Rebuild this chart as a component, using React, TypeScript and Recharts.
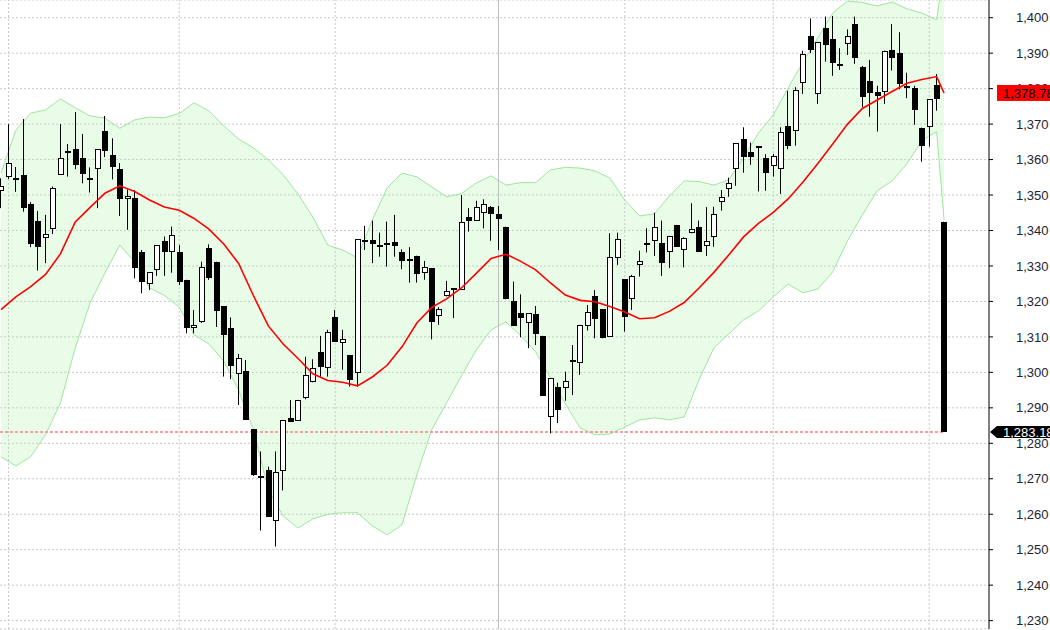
import React from 'react';
import { ComposedChart, Bar, Line, Area, XAxis, YAxis, CartesianGrid, ReferenceLine } from 'recharts';

// daily candles, oldest first
const opens = [
  1351.2, 1355.0, 1354.7, 1355.7, 1347.5, 1342.8, 1337.8, 1340.4, 1355.7, 1361.8,
  1362.9, 1360.4, 1354.9, 1357.3, 1368.1, 1361.3, 1357.4, 1348.8, 1349.3, 1333.8,
  1324.8, 1328.9, 1337.1, 1334.0, 1333.8, 1326.1, 1312.4, 1314.1, 1335.0, 1331.2,
  1318.7, 1312.6, 1299.6, 1300.4, 1284.0, 1270.8, 1272.5, 1258.2, 1272.3, 1287.1,
  1286.4, 1292.9, 1297.2, 1305.8, 1301.2, 1315.7, 1308.4, 1304.9, 1299.9, 1337.3,
  1337.3, 1335.8, 1335.9, 1336.8, 1333.8, 1331.9, 1332.9, 1328.1, 1329.4, 1315.9,
  1321.4, 1323.7, 1323.2, 1343.9, 1342.8, 1344.9, 1346.7, 1344.7, 1341.1, 1320.1,
  1316.7, 1314.0, 1316.4, 1310.3, 1287.5, 1295.8, 1295.5, 1303.6, 1302.7, 1313.2,
  1321.4, 1317.8, 1310.1, 1332.3, 1326.3, 1320.6, 1330.3, 1336.6, 1337.1, 1336.6,
  1333.8, 1341.6, 1334.5, 1339.2, 1341.1, 1335.6, 1338.3, 1348.0, 1351.7, 1357.3,
  1365.7, 1362.0, 1363.7, 1360.5, 1358.2, 1357.4, 1369.6, 1368.1, 1381.5, 1394.7,
  1378.4, 1397.2, 1393.9, 1387.0, 1392.6, 1398.2, 1386.0, 1382.2, 1379.0, 1379.1,
  1390.9, 1390.1, 1380.8, 1380.1, 1369.0, 1369.1, 1381.0, 1342.5,
];
const highs = [
  1354.7, 1370.0, 1357.9, 1371.4, 1348.0, 1345.5, 1344.4, 1352.4, 1370.0, 1364.4,
  1373.4, 1367.2, 1357.8, 1362.9, 1372.3, 1366.0, 1359.0, 1351.6, 1351.4, 1334.5,
  1328.2, 1335.9, 1338.3, 1341.1, 1335.9, 1326.1, 1317.6, 1331.2, 1336.1, 1331.2,
  1318.7, 1315.5, 1305.2, 1303.5, 1284.0, 1277.7, 1273.4, 1277.7, 1286.6, 1292.2,
  1292.2, 1304.4, 1303.7, 1310.3, 1312.0, 1317.6, 1312.0, 1304.9, 1337.5, 1341.3,
  1342.8, 1339.4, 1342.5, 1344.4, 1334.7, 1335.3, 1332.9, 1331.4, 1329.4, 1318.4,
  1325.8, 1323.7, 1350.0, 1346.3, 1348.4, 1348.8, 1346.9, 1346.9, 1341.1, 1325.6,
  1322.0, 1316.7, 1318.7, 1310.3, 1298.3, 1297.1, 1300.2, 1307.7, 1313.4, 1319.0,
  1323.2, 1317.8, 1339.2, 1339.4, 1326.3, 1327.5, 1334.3, 1340.6, 1345.0, 1342.8,
  1338.5, 1341.6, 1338.1, 1347.7, 1342.8, 1346.6, 1346.7, 1351.4, 1354.9, 1364.6,
  1369.1, 1364.8, 1363.8, 1361.5, 1361.6, 1369.1, 1379.4, 1380.4, 1390.7, 1399.8,
  1393.2, 1400.3, 1400.5, 1391.4, 1396.7, 1400.3, 1386.4, 1388.1, 1380.8, 1390.7,
  1398.2, 1395.9, 1384.5, 1380.8, 1369.0, 1377.0, 1384.1, 1342.5,
];
const lows = [
  1346.3, 1354.5, 1350.9, 1345.3, 1335.3, 1328.7, 1330.8, 1339.0, 1355.7, 1355.2,
  1357.3, 1353.3, 1350.7, 1346.3, 1360.7, 1354.4, 1344.1, 1340.2, 1326.5, 1322.3,
  1323.2, 1327.2, 1327.2, 1328.1, 1324.6, 1311.0, 1311.0, 1313.9, 1326.1, 1312.8,
  1298.8, 1298.1, 1290.8, 1286.6, 1270.8, 1255.4, 1259.2, 1250.9, 1266.7, 1286.1,
  1286.4, 1292.4, 1297.2, 1298.8, 1298.8, 1308.7, 1300.7, 1296.0, 1296.0, 1334.5,
  1330.8, 1332.6, 1329.8, 1332.6, 1329.1, 1325.3, 1325.3, 1326.1, 1309.3, 1313.4,
  1321.4, 1315.3, 1323.2, 1339.7, 1342.8, 1340.6, 1337.1, 1334.5, 1320.6, 1313.1,
  1309.9, 1306.8, 1307.7, 1293.4, 1282.8, 1285.7, 1292.0, 1293.6, 1299.3, 1311.8,
  1309.6, 1309.6, 1310.1, 1330.3, 1311.5, 1317.6, 1327.0, 1333.8, 1332.8, 1327.2,
  1329.4, 1335.4, 1329.6, 1339.2, 1333.9, 1332.8, 1335.4, 1345.6, 1349.5, 1352.6,
  1356.3, 1358.5, 1351.0, 1351.2, 1355.2, 1350.3, 1362.9, 1363.9, 1378.5, 1390.0,
  1375.7, 1387.6, 1383.6, 1385.3, 1389.5, 1387.0, 1374.7, 1372.1, 1367.9, 1375.7,
  1385.1, 1379.8, 1377.3, 1369.8, 1359.4, 1363.6, 1373.8, 1283.18,
];
const closes = [
  1352.6, 1359.0, 1354.3, 1346.4, 1336.1, 1335.4, 1338.9, 1351.9, 1360.5, 1362.4,
  1358.5, 1355.9, 1354.1, 1362.9, 1362.5, 1358.0, 1348.8, 1349.7, 1329.5, 1325.6,
  1328.2, 1335.9, 1333.8, 1338.7, 1325.6, 1312.6, 1313.4, 1329.6, 1326.5, 1317.4,
  1310.4, 1301.9, 1304.0, 1286.6, 1271.1, 1270.3, 1259.2, 1271.8, 1286.6, 1286.1,
  1292.2, 1299.3, 1301.2, 1301.4, 1311.3, 1308.7, 1309.3, 1297.9, 1337.5, 1337.0,
  1336.2, 1335.6, 1336.6, 1335.6, 1331.5, 1331.6, 1327.7, 1329.6, 1314.1, 1317.8,
  1323.0, 1323.2, 1342.5, 1342.8, 1346.7, 1347.5, 1344.7, 1343.2, 1320.6, 1313.1,
  1315.3, 1316.7, 1310.8, 1293.4, 1298.3, 1289.4, 1297.7, 1303.4, 1313.4, 1317.0,
  1315.0, 1309.6, 1332.5, 1337.5, 1315.5, 1327.2, 1331.3, 1336.4, 1340.9, 1330.8,
  1338.5, 1335.4, 1337.8, 1340.4, 1333.9, 1337.1, 1344.7, 1349.4, 1353.5, 1364.6,
  1360.7, 1360.7, 1363.5, 1356.3, 1361.1, 1367.9, 1363.9, 1379.6, 1389.7, 1390.9,
  1393.2, 1392.3, 1387.2, 1386.9, 1394.9, 1388.6, 1377.6, 1378.7, 1378.0, 1390.6,
  1388.6, 1381.2, 1380.3, 1374.0, 1363.8, 1377.0, 1377.0, 1283.18,
];

// moving average and bands, read at every other candle
const bandIdx = [
  0, 2, 4, 6, 8, 10, 12, 14, 16, 18, 20, 22, 24, 26, 28, 30, 32, 34, 36, 38,
  40, 42, 44, 46, 48, 50, 52, 54, 56, 58, 60, 62, 64, 66, 68, 70, 72, 74, 76, 78,
  80, 82, 84, 86, 88, 90, 92, 94, 96, 98, 100, 102, 104, 106, 108, 110, 112, 114, 116, 118,
  120, 122, 124, 126, 127,
];
const maVals = [
  1317.7, 1321.3, 1324.2, 1327.6, 1333.4, 1342.4, 1346.5, 1350.5, 1352.6, 1351.0,
  1348.6, 1346.6, 1345.7, 1343.4, 1340.4, 1336.2, 1330.7, 1321.6, 1313.1, 1308.0,
  1303.9, 1299.6, 1297.7, 1297.2, 1296.2, 1298.7, 1302.0, 1307.2, 1313.9, 1318.3,
  1320.7, 1323.8, 1327.9, 1332.1, 1333.3, 1331.3, 1328.9, 1325.2, 1321.8, 1320.3,
  1319.9, 1318.6, 1317.0, 1315.1, 1315.4, 1317.2, 1319.7, 1323.8, 1328.2, 1333.1,
  1338.2, 1342.0, 1345.1, 1348.9, 1353.7, 1358.9, 1364.4, 1370.0, 1374.4, 1376.8,
  1379.2, 1381.5, 1382.6, 1383.4, 1378.78,
];
const upperVals = [
  1356.2, 1368.3, 1373.1, 1374.0, 1377.1, 1374.6, 1372.3, 1371.7, 1368.8, 1371.2,
  1372.0, 1371.8, 1373.0, 1376.0, 1373.7, 1369.5, 1365.8, 1363.3, 1359.9, 1355.7,
  1350.3, 1343.8, 1335.9, 1334.5, 1332.3, 1343.0, 1352.0, 1356.2, 1355.1, 1352.3,
  1349.5, 1350.4, 1353.4, 1355.4, 1352.8, 1353.5, 1353.5, 1357.1, 1357.8, 1357.6,
  1356.8, 1354.8, 1348.6, 1344.1, 1344.7, 1349.7, 1354.0, 1353.8, 1352.8, 1354.3,
  1360.5, 1367.5, 1372.6, 1380.2, 1387.5, 1394.3, 1401.3, 1404.7, 1404.3, 1403.3,
  1404.4, 1402.5, 1401.3, 1399.4, 1414.6,
];
const lowerVals = [
  1276.2, 1273.6, 1276.2, 1282.4, 1291.4, 1306.9, 1319.6, 1328.0, 1335.9, 1331.1,
  1323.8, 1321.7, 1318.4, 1310.6, 1308.0, 1303.2, 1295.0, 1283.8, 1266.9, 1259.5,
  1256.1, 1258.7, 1260.0, 1260.4, 1260.4, 1256.7, 1254.2, 1257.0, 1271.1, 1283.8,
  1291.4, 1299.0, 1306.3, 1312.0, 1314.2, 1310.3, 1305.8, 1298.4, 1291.1, 1284.3,
  1282.4, 1282.6, 1284.6, 1286.6, 1287.2, 1286.6, 1287.4, 1297.9, 1306.9, 1310.8,
  1314.8, 1317.3, 1321.3, 1324.9, 1322.4, 1323.5, 1328.3, 1337.1, 1344.4, 1351.2,
  1354.0, 1358.8, 1365.3, 1367.9, 1343.0,
];

const priceTicks = [
  1230, 1240, 1250, 1260, 1270, 1280, 1290, 1300, 1310, 1320,
  1330, 1340, 1350, 1360, 1370, 1380, 1390, 1400,
];
const monthStarts = [1, 24, 45, 84, 104, 125];
const yearStart = 67;
const lastMa = 1378.78;
const lastClose = 1283.18;

const CHART_W = 1050;
const CHART_H = 630;
const AXIS_W = 60;
const TAG_W = 1;
const X_DOMAIN = [-0.135, 133.05];
const Y_DOMAIN = [1227.64, 1404.99];

const bandPos = new Map(bandIdx.map((idx, k) => [idx, k]));
const chartData = opens.map((o, i) => {
  const k = bandPos.get(i);
  return {
    i,
    open: o,
    high: highs[i],
    low: lows[i],
    close: closes[i],
    ma: k === undefined ? null : maVals[k],
    band: k === undefined ? null : [lowerVals[k], upperVals[k]],
  };
});

const fmt = (v: number, dec = 0) =>
  v.toLocaleString('en-US', { minimumFractionDigits: dec, maximumFractionDigits: dec });

function Candle(props: any) {
  const { x, y, width, height } = props;
  const d = props.payload ?? props;
  if (x == null || y == null || d == null) return null;
  const top = Math.min(y, y + height);
  const h = Math.abs(height);
  const range = d.high - d.low;
  const toY = (v: number) => (range > 0 ? top + ((d.high - v) / range) * h : top);
  const cx = Math.round(x + width / 2);
  const yo = Math.round(toY(d.open));
  const yc = Math.round(toY(d.close));
  const bt = Math.min(yo, yc);
  const bb = Math.max(yo, yc);
  const up = d.close > d.open;
  return (
    <g>
      <line x1={cx - 0.5} x2={cx - 0.5} y1={top} y2={top + h} stroke="#000" strokeWidth={1} />
      {up ? (
        <rect x={cx - 2.5} y={bt + 0.5} width={5} height={Math.max(bb - bt - 1, 1)} fill="#fff" stroke="#000" strokeWidth={1} />
      ) : (
        <rect x={cx - 3} y={bt} width={6} height={Math.max(bb - bt, 2)} fill="#000" />
      )}
    </g>
  );
}

// price tags drawn on the right axis, over the regular tick labels
function TagTick(props: any) {
  const { y, payload } = props;
  if (y == null || !payload) return null;
  const ax = CHART_W - AXIS_W - TAG_W;
  if (Math.abs(payload.value - lastMa) < 0.001) {
    return (
      <g>
        <rect x={ax + 8} y={y - 8} width={70} height={16} fill="#ff0000" />
        <text x={ax + 14} y={y} dy="0.36em" fontSize={13} fill="#000">{fmt(lastMa, 2)}</text>
      </g>
    );
  }
  return (
    <g>
      <polygon
        points={`${ax + 1},${y} ${ax + 8},${y - 6} ${ax + 70},${y - 6} ${ax + 70},${y + 6} ${ax + 8},${y + 6}`}
        fill="#000"
      />
      <text x={ax + 14} y={y} dy="0.36em" fontSize={13} fill="#fff">{fmt(lastClose, 2)}</text>
    </g>
  );
}

export default function App() {
  return (
    <div
      style={{
        position: 'absolute',
        left: 0,
        top: 0,
        width: CHART_W,
        height: CHART_H,
        background: '#fff',
        fontFamily: '"Liberation Sans", Arial, sans-serif',
        overflow: 'hidden',
      }}
    >
      <ComposedChart width={CHART_W} height={CHART_H} data={chartData} margin={{ top: 0, right: 0, bottom: 0, left: 0 }}>
        <CartesianGrid stroke="#c8c8c8" strokeDasharray="2 2" vertical={false} />
        <XAxis
          type="number"
          dataKey="i"
          domain={X_DOMAIN}
          allowDataOverflow
          ticks={monthStarts}
          interval={0}
          height={1}
          tick={false}
          axisLine={false}
          tickLine={false}
        />
        <YAxis
          orientation="right"
          width={AXIS_W}
          domain={Y_DOMAIN}
          allowDataOverflow
          ticks={priceTicks}
          interval={0}
          tickSize={4}
          tickMargin={23}
          tickFormatter={(v: number) => fmt(v)}
          tick={{ fontSize: 13, fill: '#1c2434', textAnchor: 'start' }}
          axisLine={{ stroke: '#000' }}
          tickLine={{ stroke: '#000' }}
        />
        <YAxis
          yAxisId="tags"
          orientation="right"
          width={TAG_W}
          domain={Y_DOMAIN}
          allowDataOverflow
          ticks={[lastMa, lastClose]}
          interval={0}
          tickSize={0}
          tickMargin={0}
          axisLine={false}
          tickLine={false}
          tick={<TagTick />}
        />
        {monthStarts.map((m) => (
          <ReferenceLine key={m} x={m} stroke="#c8c8c8" strokeDasharray="2 2" zIndex={150} />
        ))}
        <ReferenceLine x={yearStart} stroke="#bdbdbd" zIndex={150} />
        <Area
          dataKey="band"
          type="linear"
          stroke="#9fe69f"
          strokeWidth={1}
          fill="#a3f3a3"
          fillOpacity={0.25}
          connectNulls
          dot={false}
          activeDot={false}
          isAnimationActive={false}
        />
        <ReferenceLine
          segment={[{ x: X_DOMAIN[0], y: lastClose }, { x: 127, y: lastClose }]}
          stroke="#f5a0a0"
          strokeWidth={2}
          strokeDasharray="3 2"
          zIndex={150}
        />
        <Bar
          dataKey={(d: any) => [d.low, d.high]}
          barSize={6}
          shape={<Candle />}
          isAnimationActive={false}
        />
        <Line
          dataKey="ma"
          type="linear"
          stroke="#ff0000"
          strokeWidth={1.6}
          dot={false}
          activeDot={false}
          connectNulls
          isAnimationActive={false}
        />
      </ComposedChart>
    </div>
  );
}
